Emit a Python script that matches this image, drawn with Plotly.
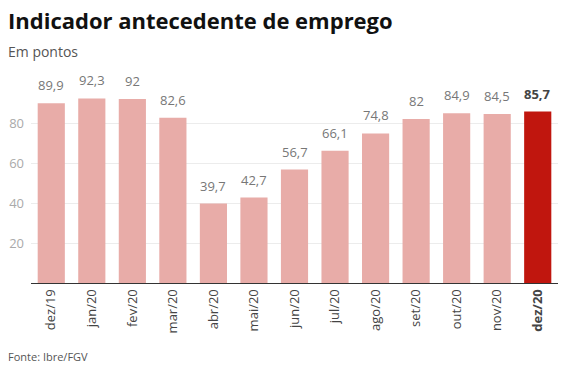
import plotly.graph_objects as go

categories = ["dez/19", "jan/20", "fev/20", "mar/20", "abr/20", "mai/20", "jun/20",
              "jul/20", "ago/20", "set/20", "out/20", "nov/20", "dez/20"]
values = [89.9, 92.3, 92, 82.6, 39.7, 42.7, 56.7, 66.1, 74.8, 82, 84.9, 84.5, 85.7]
value_labels = ["89,9", "92,3", "92", "82,6", "39,7", "42,7", "56,7", "66,1", "74,8",
                "82", "84,9", "84,5", "<b>85,7</b>"]
tick_labels = categories[:-1] + ["<b>dez/20</b>"]

light = "#e8aca8"
dark = "#c0160e"
colors = [light] * (len(values) - 1) + [dark]
text_colors = ["#777"] * (len(values) - 1) + ["#444"]

FONT = "Open Sans"

fig = go.Figure(go.Bar(
    x=categories, y=values,
    marker=dict(color=colors, line=dict(width=0)),
    hoverinfo="skip",
))

annotations = [
    dict(x=c, y=v, text=t, xref="x", yref="y", showarrow=False,
         yanchor="bottom", yshift=7, font=dict(family=FONT, size=13, color=col))
    for c, v, t, col in zip(categories, values, value_labels, text_colors)
]

annotations += [
    dict(text="<b>Indicador antecedente de emprego</b>", x=0, y=1, xref="paper", yref="paper",
         xanchor="left", yanchor="top", showarrow=False, xshift=-25, yshift=80,
         font=dict(family=FONT, size=22, color="#111")),
    dict(text="Em pontos", x=0, y=1, xref="paper", yref="paper",
         xanchor="left", yanchor="top", showarrow=False, xshift=-25, yshift=43,
         font=dict(family=FONT, size=14, color="#555")),
    dict(text="Fonte: Ibre/FGV", x=0, y=0, xref="paper", yref="paper",
         xanchor="left", yanchor="top", showarrow=False, xshift=-25, yshift=-64,
         font=dict(family=FONT, size=11, color="#555")),
]

fig.update_layout(
    width=567, height=384,
    margin=dict(l=31, r=9, t=83, b=101),
    paper_bgcolor="white", plot_bgcolor="white",
    bargap=0.33,
    showlegend=False,
    font=dict(family=FONT),
    xaxis=dict(
        tickmode="array", tickvals=categories, ticktext=tick_labels,
        tickangle=-90, tickfont=dict(family=FONT, size=13, color="#444"),
        showline=True, linecolor="#333", linewidth=1, ticks="", showgrid=False,
    ),
    yaxis=dict(
        range=[0, 100], tickvals=[20, 40, 60, 80],
        tickfont=dict(family=FONT, size=13, color="#aaa"),
        showgrid=True, gridcolor="#ececec", gridwidth=1,
        zeroline=False, showline=False, ticks="", ticklabelstandoff=6,
    ),
    annotations=annotations,
)

fig.write_html("out.html", config={"displayModeBar": False},
               post_script="document.body.style.margin='0';")
